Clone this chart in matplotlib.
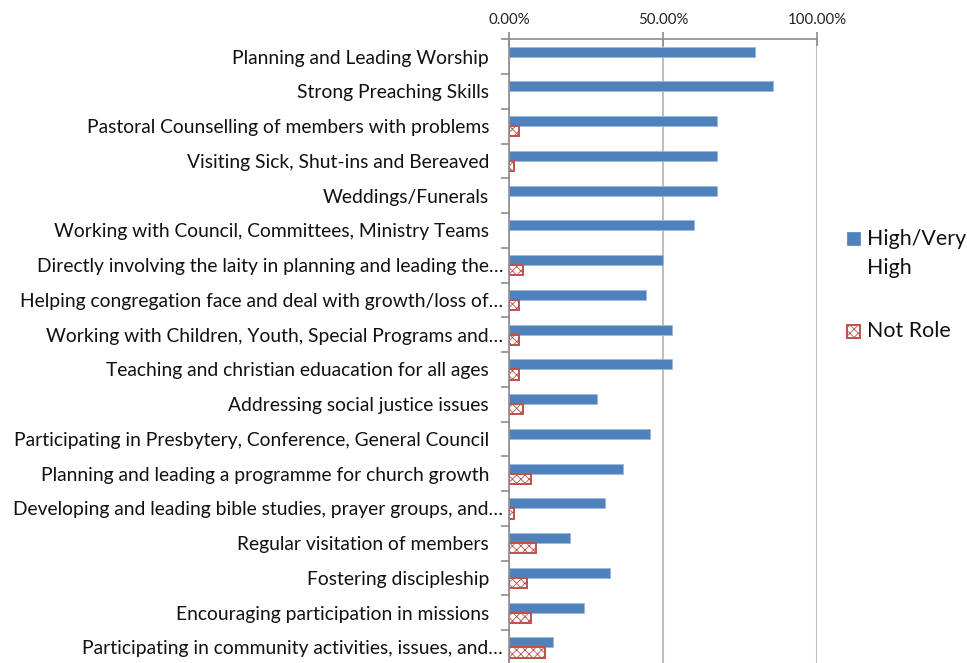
import matplotlib.pyplot as plt
import matplotlib.transforms as mtransforms
from matplotlib.patches import Rectangle
import numpy as np
from matplotlib.ticker import FixedLocator, FuncFormatter

plt.rcParams['font.family'] = ['Lato', 'DejaVu Sans']
plt.rcParams['hatch.linewidth'] = 0.6

categories = [
    "Planning and Leading Worship",
    "Strong Preaching Skills",
    "Pastoral Counselling of members with problems",
    "Visiting Sick, Shut-ins and Bereaved",
    "Weddings/Funerals",
    "Working with Council, Committees, Ministry Teams",
    "Directly involving the laity in planning and leading the…",
    "Helping congregation face and deal with growth/loss of…",
    "Working with Children, Youth, Special Programs and…",
    "Teaching and christian eduacation for all ages",
    "Addressing social justice issues",
    "Participating in Presbytery, Conference, General Council",
    "Planning and leading a programme for church growth",
    "Developing and leading bible studies, prayer groups, and…",
    "Regular visitation of members",
    "Fostering discipleship",
    "Encouraging participation in missions",
    "Participating in community activities, issues, and…",
]

# share of respondents (%)
high = [80.0, 85.8, 67.4, 67.4, 67.4, 60.2, 50.0, 44.4, 52.9, 52.9,
        28.6, 45.8, 37.1, 31.3, 19.9, 32.9, 24.3, 14.2]
not_role = [0, 0, 3.2, 1.6, 0, 0, 4.5, 3.2, 3.2, 3.2,
            4.5, 0, 7.3, 1.6, 8.9, 5.9, 7.3, 11.6]

x_ticks = [0, 50, 100]
series_names = ["High/Very\nHigh", "Not Role"]

BLUE = '#4F81BD'
RED = '#C0504D'
AXIS_GREY = '#8C8C8C'

W, H = 967, 663
fig = plt.figure(figsize=(W / 100, H / 100), dpi=100)
ax = fig.add_axes([509 / W, 1 - 664.8 / H, 308 / W, 625.5 / H])

y = np.arange(len(categories))
h = 0.29
ax.barh(y - h / 2, high, height=h, color=BLUE, edgecolor='#9DB9DD',
        linewidth=0.6, zorder=3)
nr = [v if v > 0 else np.nan for v in not_role]
ax.barh(y + h / 2, nr, height=h, color='white', edgecolor=RED,
        hatch='xxxx', linewidth=1.4, zorder=3)

ax.set_xlim(0, 100)
ax.set_ylim(len(categories) - 0.5, -0.5)
ax.xaxis.tick_top()
ax.xaxis.set_major_locator(FixedLocator(x_ticks))
ax.xaxis.set_major_formatter(FuncFormatter(lambda v, p: f"{v:.2f}%"))
ax.grid(axis='x', color='#BEBEBE', linewidth=1.5, zorder=0)
ax.tick_params(axis='x', direction='inout', length=10, width=1.2,
               color=AXIS_GREY, pad=3.5, labelsize=10.8, labelcolor='#222222')

ax.set_yticks(y)
ax.set_yticklabels(categories)
ax.yaxis.set_minor_locator(FixedLocator(np.arange(-0.5, len(categories), 1)))
ax.tick_params(axis='y', which='major', length=0, pad=14.4, labelsize=13.9,
               labelcolor='#111111')
ax.tick_params(axis='y', which='minor', direction='out', length=6,
               width=1.2, color=AXIS_GREY)

# clipped labels sit a little further right
shift = mtransforms.ScaledTranslation(14 / 100, 0, fig.dpi_scale_trans)
for lbl in ax.get_yticklabels():
    if lbl.get_text().endswith('…'):
        lbl.set_transform(lbl.get_transform() + shift)

for s in ['right', 'bottom']:
    ax.spines[s].set_visible(False)
for s in ['left', 'top']:
    ax.spines[s].set_color(AXIS_GREY)
    ax.spines[s].set_linewidth(1.2)
    ax.spines[s].set_zorder(4)

# legend, laid out by hand in pixel positions
def px(x, y_):
    return x / W, 1 - y_ / H

fig.add_artist(Rectangle(px(847, 245), 13 / W, 13 / H, transform=fig.transFigure,
                         facecolor=BLUE, edgecolor=BLUE, linewidth=0.5))
fig.add_artist(Rectangle(px(847, 338), 13 / W, 13 / H, transform=fig.transFigure,
                         facecolor='white', edgecolor=RED, hatch='xxxx',
                         linewidth=1.4))
first, second = series_names[0].split('\n')
fig.text(*px(867, 239), first, fontsize=15.4, va='center', color='#111111')
fig.text(*px(867, 268), second, fontsize=15.4, va='center', color='#111111')
fig.text(*px(867, 331), series_names[1], fontsize=15.4, va='center',
         color='#111111')

fig.savefig('out.png', dpi=100)
